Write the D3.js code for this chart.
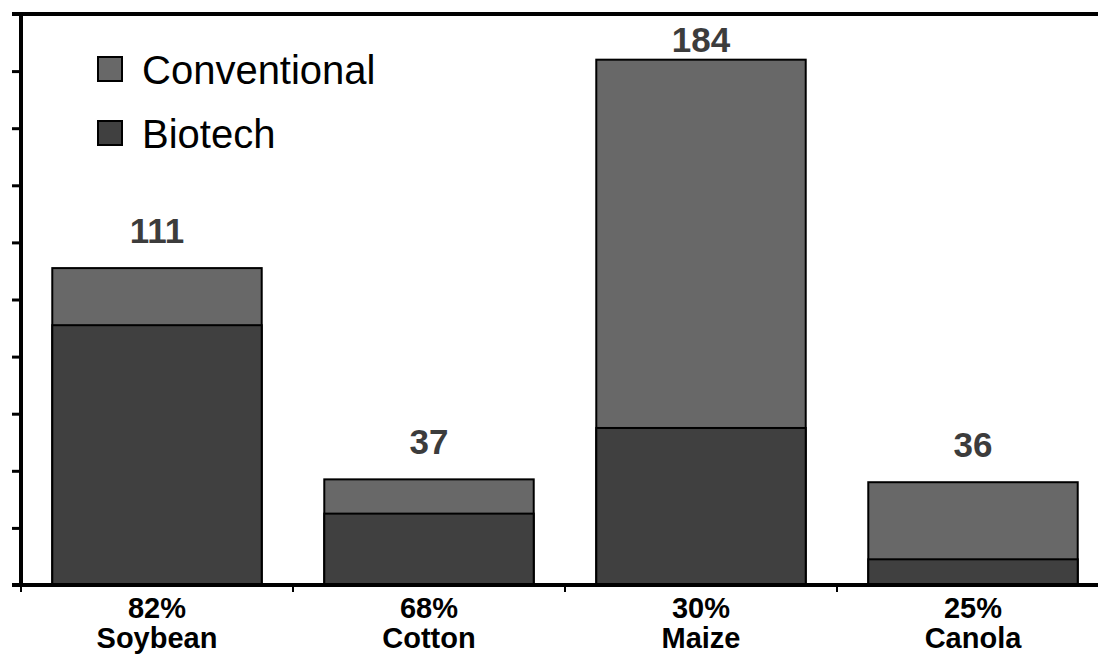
<!doctype html>
<html>
  <head>
    <script src="https://cdn.jsdelivr.net/npm/d3@7"></script>
    <style>
      body { margin: 0; background: #fff; }
      text { font-family: Arial, "Liberation Sans", sans-serif; }
    </style>
  </head>
  <body>
    <div id="chart"></div>
    <script>
      // crops, total area (million ha) and biotech share
      var crops = ["Soybean", "Cotton", "Maize", "Canola"];
      var totals = [111, 37, 184, 36];
      var biotech = [91, 25, 55, 9];
      var shares = ["82%", "68%", "30%", "25%"];
      var series = ["Conventional", "Biotech"];
      var yTicks = d3.range(0, 201, 20);

      var width = 1098, height = 654;
      var x0 = 21, yTop = 14, yBase = 585;

      var svg = d3.select("#chart").append("svg")
        .attr("width", width)
        .attr("height", height);

      var x = d3.scaleBand()
        .domain(crops)
        .range([x0, 1109])
        .paddingInner(0.23)
        .paddingOuter(0.115);

      var y = d3.scaleLinear()
        .domain([0, 200])
        .range([yBase, yTop]);

      var color = d3.scaleOrdinal()
        .domain(series)
        .range(["#686868", "#404040"]);

      var data = crops.map(function(c, i) {
        return {crop: c, total: totals[i], biotech: biotech[i], share: shares[i]};
      });

      // conventional part = full bar, biotech drawn over it
      var g = svg.append("g");
      g.selectAll(".conv")
        .data(data).enter()
        .append("rect")
          .attr("x", function(d) { return x(d.crop); })
          .attr("y", function(d) { return y(d.total); })
          .attr("width", x.bandwidth())
          .attr("height", function(d) { return y(0) - y(d.total); })
          .style("fill", color("Conventional"))
          .style("stroke", "#000")
          .style("stroke-width", 2);
      g.selectAll(".bio")
        .data(data).enter()
        .append("rect")
          .attr("x", function(d) { return x(d.crop); })
          .attr("y", function(d) { return y(d.biotech); })
          .attr("width", x.bandwidth())
          .attr("height", function(d) { return y(0) - y(d.biotech); })
          .style("fill", color("Biotech"))
          .style("stroke", "#000")
          .style("stroke-width", 2);

      // totals above bars
      g.selectAll(".total")
        .data(data).enter()
        .append("text")
          .attr("x", function(d) { return x(d.crop) + x.bandwidth() / 2; })
          .attr("y", function(d) { return Math.max(y(d.total) - 25, 52); })
          .attr("text-anchor", "middle")
          .style("font-size", "35px")
          .style("font-weight", "bold")
          .style("fill", "#3c3c3c")
          .text(function(d) { return d.total; });

      // left axis
      var yAxis = svg.append("g")
        .attr("transform", "translate(" + x0 + ",0)")
        .call(d3.axisLeft(y).tickValues(yTicks).tickSize(9).tickFormat(""));
      yAxis.select(".domain").remove();
      yAxis.selectAll(".tick line").style("stroke", "#000").style("stroke-width", 3);
      svg.append("line")
        .attr("x1", x0).attr("x2", x0)
        .attr("y1", yTop).attr("y2", yBase)
        .style("stroke", "#000").style("stroke-width", 4);

      // top frame line
      svg.append("line")
        .attr("x1", 12).attr("x2", width)
        .attr("y1", yTop).attr("y2", yTop)
        .style("stroke", "#000").style("stroke-width", 4);

      // bottom axis with ticks between categories
      var step = x.step();
      var bounds = crops.map(function(c) { return x(c) - x.paddingInner() * step / 2; });
      svg.selectAll(".xtick")
        .data(bounds).enter()
        .append("line")
          .attr("x1", function(d) { return d; })
          .attr("x2", function(d) { return d; })
          .attr("y1", yBase)
          .attr("y2", yBase + 7)
          .style("stroke", "#000").style("stroke-width", 2);
      svg.append("line")
        .attr("x1", 12).attr("x2", width)
        .attr("y1", yBase).attr("y2", yBase)
        .style("stroke", "#000").style("stroke-width", 4);

      var labels = svg.selectAll(".xlab")
        .data(data).enter()
        .append("text")
          .attr("text-anchor", "middle")
          .style("font-size", "29px")
          .style("font-weight", "bold")
          .style("fill", "#000");
      labels.append("tspan")
        .attr("x", function(d) { return x(d.crop) + x.bandwidth() / 2; })
        .attr("y", 618)
        .text(function(d) { return d.share; });
      labels.append("tspan")
        .attr("x", function(d) { return x(d.crop) + x.bandwidth() / 2; })
        .attr("y", 648)
        .text(function(d) { return d.crop; });

      // legend
      var legend = svg.selectAll(".legend")
        .data(series).enter()
        .append("g")
          .attr("transform", function(d, i) { return "translate(98," + (57 + i * 64) + ")"; });
      legend.append("rect")
        .attr("width", 24).attr("height", 24)
        .style("fill", function(d) { return color(d); })
        .style("stroke", "#000").style("stroke-width", 2);
      legend.append("text")
        .attr("x", 44).attr("y", 27)
        .style("font-size", "40px")
        .style("fill", "#000")
        .text(function(d) { return d; });
    </script>
  </body>
</html>
